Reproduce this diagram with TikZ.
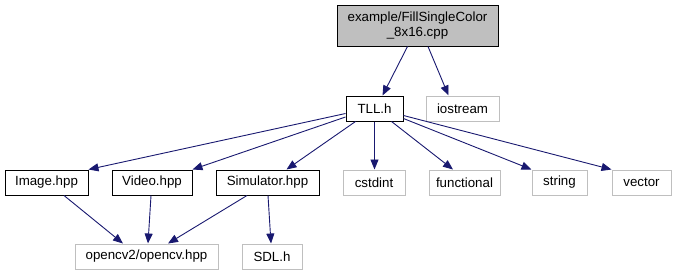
\documentclass[tikz,border=0pt]{standalone}
\usepackage{fontspec}
\setmainfont{Liberation Sans}
\usetikzlibrary{arrows.meta,calc}
\definecolor{edgeblue}{HTML}{191970}
\definecolor{sysgray}{HTML}{BFBFBF}
\definecolor{rootfill}{HTML}{BFBFBF}
\begin{document}
\begin{tikzpicture}[x=1pt,y=-1pt,
  file/.style={draw=black,line width=1pt,fill=white,minimum height=25pt,
    inner sep=0pt,font=\fontsize{13.3}{15.5}\selectfont,text=black},
  sysfile/.style={draw=sysgray,line width=1pt,fill=white,minimum height=25pt,
    inner sep=0pt,font=\fontsize{13.3}{15.5}\selectfont,text=black},
  root/.style={file,fill=rootfill,minimum height=41pt,align=center},
  dep/.style={draw=edgeblue,line width=0.9pt,
    -{Triangle[length=10pt,width=8pt]}}]
\useasboundingbox (0,0) rectangle (676,276);

% files
\node[root,minimum width=161pt] (main) at (417.5,25.5)
  {example/FillSingleColor\\\_8x16.cpp};
\node[file,minimum width=57pt] (tll) at (374.5,108.5) {TLL.h};
\node[sysfile,minimum width=73pt] (iostream) at (462.5,108.5) {iostream};

\node[file,minimum width=83pt] (image) at (46.5,182.5) {Image.hpp};
\node[file,minimum width=80pt] (video) at (152,182.5) {Video.hpp};
\node[file,minimum width=103pt] (simulator) at (267.5,182.5) {Simulator.hpp};
\node[sysfile,minimum width=62pt] (cstdint) at (374,182.5) {cstdint};
\node[sysfile,minimum width=71pt] (functional) at (464.5,182.5) {functional};
\node[sysfile,minimum width=55pt] (string) at (559.5,182.5) {string};
\node[sysfile,minimum width=59pt] (vector) at (641.5,182.5) {vector};

\node[sysfile,minimum width=143pt] (opencv) at (146.5,256.5) {opencv2/opencv.hpp};
\node[sysfile,minimum width=60pt] (sdl) at (272,256.5) {SDL.h};

% include edges
\draw[dep] ($(main.south)+(-10,0)$) -- ($(tll.north)+(8,0)$);
\draw[dep] ($(main.south)+(10.5,0)$) -- ($(iostream.north)+(-14,0)$);

\draw[dep] ($(tll.west)+(0,5)$) -- (image.north east);
\draw[dep] ($(tll.west)+(0,8.5)$) -- (video.north east);
\draw[dep] ($(tll.south west)+(10,0)$) -- ($(simulator.north)+(19,0)$);
\draw[dep] (tll.south) -- ($(cstdint.north)+(0.5,0)$);
\draw[dep] ($(tll.south east)+(-12,0)$) -- ($(functional.north)+(-11.5,0)$);
\draw[dep] ($(tll.east)+(0,10)$) -- (string.north west);
\draw[dep] ($(tll.east)+(0,7)$) -- (vector.north west);

\draw[dep] ($(image.south)+(17.5,0)$) -- ($(opencv.north)+(-23.5,0)$);
\draw[dep] ($(video.south)+(-1,0)$) -- ($(opencv.north)+(1.5,0)$);
\draw[dep] ($(simulator.south)+(-20.5,0)$) -- ($(opencv.north)+(21.5,0)$);
\draw[dep] ($(simulator.south)+(0.5,0)$) -- ($(sdl.north)+(-1,0)$);
\end{tikzpicture}
\end{document}
